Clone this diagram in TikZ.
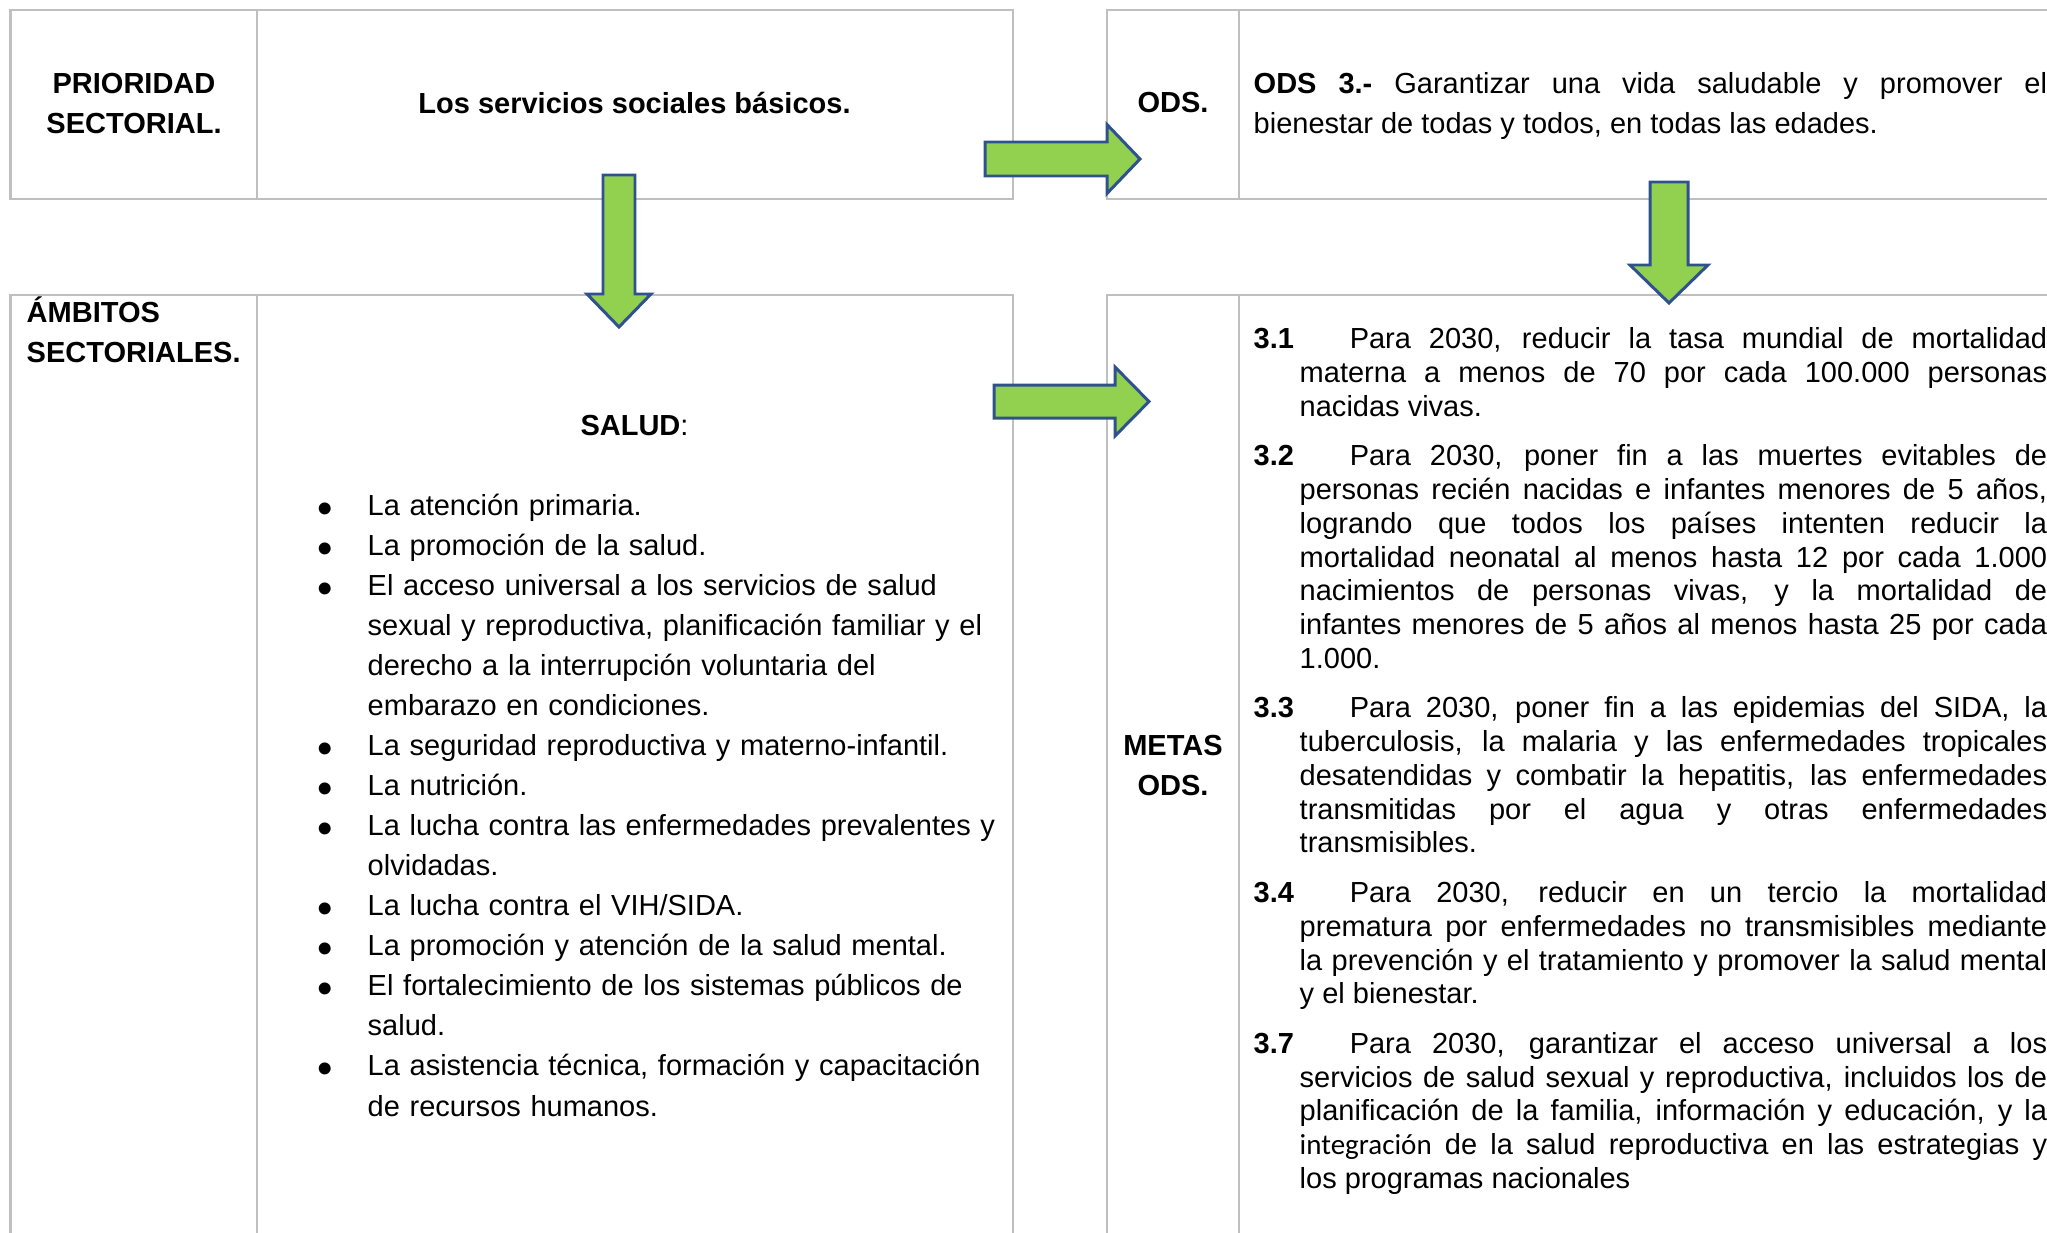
\documentclass[tikz,border=0pt]{standalone}
\usepackage{fontspec}
\setmainfont{Liberation Sans}
\newfontfamily\carlito{Carlito}
\usepackage{xcolor}
\usepackage{tikz}
\usetikzlibrary{positioning}
\definecolor{gridgray}{HTML}{BFBFBF}
\definecolor{arrowgreen}{HTML}{92D050}
\definecolor{arrowblue}{HTML}{2F528F}
\hbadness=10000
\newcommand{\bodyfont}{\fontsize{8.25pt}{11.38pt}\selectfont}
\newcommand{\metafont}{\fontsize{8.25pt}{9.59pt}\selectfont}
\newcommand{\saluditem}[1]{\noindent\hangindent=0.47cm\hangafter=1%
  \makebox[0.47cm][l]{\strut\hspace{-0.8pt}\raisebox{-2.2pt}{\fontsize{12.5pt}{12.5pt}\selectfont\textbullet}}#1\par}
\newcommand{\metaitem}[2]{\noindent\hangindent=0.46cm\hangafter=1%
  \makebox[0.96cm][l]{\strut\textbf{#1}}#2\par}
\tikzstyle{cell} = [rectangle, draw=gridgray, line width=0.6pt,
    inner sep=0pt, outer sep=0pt, anchor=north west]
\tikzstyle{headtext} = [inner sep=0pt, font=\bodyfont\bfseries]
\tikzstyle{celltext} = [inner sep=0pt, font=\bodyfont]
\tikzstyle{blockarrow} = [fill=arrowgreen, draw=arrowblue,
    line width=0.85pt, line join=miter]
\begin{document}
\begin{tikzpicture}[x=0.01cm, y=-0.01cm]
  \useasboundingbox (0,0) rectangle (2047,1233);

  % Place cells
  \node [cell, minimum width=2.465cm, minimum height=1.89cm] (prio) at (10.5,10) {};
  \node [cell, minimum width=7.55cm, minimum height=1.89cm, right=0pt of prio] (servicios) {};
  \node [cell, minimum width=2.465cm, minimum height=10cm] (ambitos) at (10.5,295) {};
  \node [cell, minimum width=7.55cm, minimum height=10cm, right=0pt of ambitos] (salud) {};
  \node [cell, minimum width=1.32cm, minimum height=1.89cm] (ods) at (1107,10) {};
  \node [cell, minimum width=9cm, minimum height=1.89cm, right=0pt of ods] (odscell) {};
  \node [cell, minimum width=1.32cm, minimum height=10cm] (metas) at (1107,295) {};
  \node [cell, minimum width=9cm, minimum height=10cm, right=0pt of metas] (metascell) {};

  % Place texts
  \node [headtext, text width=2.4cm, align=center, anchor=north] (priolabel) at (134,65)
    {\strut PRIORIDAD\\SECTORIAL.};
  \node [headtext, anchor=base] (servlabel) at (634.5,113) {Los servicios sociales básicos.};
  \node [headtext, anchor=base] (odslabel) at (1173,112) {ODS.};
  \node [celltext, text width=7.93cm, align=justify, anchor=north west] (odsgoal) at (1253,65)
    {\strut\textbf{ODS 3.-} Garantizar una vida saludable y promover el\linebreak
     bienestar de todas y todos, en todas las edades.};
  \node [headtext, text width=2.4cm, align=left, anchor=north west] (ambitoslabel) at (26,294)
    {\strut ÁMBITOS\\SECTORIALES.};
  \node [celltext, anchor=base] (saludtitle) at (634.5,435) {\textbf{SALUD}:};
  \node [celltext, text width=6.9cm, align=left, anchor=north west] (saludlist) at (320,487) {%
    \saluditem{La atención primaria.}
    \saluditem{La promoción de la salud.}
    \saluditem{El acceso universal a los servicios de salud\newline
      sexual y reproductiva, planificación familiar y el\newline
      derecho a la interrupción voluntaria del\newline
      embarazo en condiciones.}
    \saluditem{La seguridad reproductiva y materno-infantil.}
    \saluditem{La nutrición.}
    \saluditem{La lucha contra las enfermedades prevalentes y\newline
      olvidadas.}
    \saluditem{La lucha contra el VIH/SIDA.}
    \saluditem{La promoción y atención de la salud mental.}
    \saluditem{El fortalecimiento de los sistemas públicos de\newline
      salud.}
    \saluditem{La asistencia técnica, formación y capacitación\newline
      de recursos humanos.}};
  \node [headtext, text width=1.3cm, align=center, anchor=north] (metaslabel) at (1173,727)
    {\strut METAS\\ODS.};
  \node [celltext, font=\metafont, text width=7.93cm, align=justify, anchor=north west]
    (metaslist) at (1253,324.4) {\setlength{\parskip}{4.55pt}%
    \metaitem{3.1}{Para 2030, reducir la tasa mundial de mortalidad\linebreak
      materna a menos de 70 por cada 100.000 personas\linebreak
      nacidas vivas.}
    \metaitem{3.2}{Para 2030, poner fin a las muertes evitables de\linebreak
      personas recién nacidas e infantes menores de 5 años,\linebreak
      logrando que todos los países intenten reducir la\linebreak
      mortalidad neonatal al menos hasta 12 por cada 1.000\linebreak
      nacimientos de personas vivas, y la mortalidad de\linebreak
      infantes menores de 5 años al menos hasta 25 por cada\linebreak
      1.000.}
    \metaitem{3.3}{Para 2030, poner fin a las epidemias del SIDA, la\linebreak
      tuberculosis, la malaria y las enfermedades tropicales\linebreak
      desatendidas y combatir la hepatitis, las enfermedades\linebreak
      transmitidas por el agua y otras enfermedades\linebreak
      transmisibles.}
    \metaitem{3.4}{Para 2030, reducir en un tercio la mortalidad\linebreak
      prematura por enfermedades no transmisibles mediante\linebreak
      la prevención y el tratamiento y promover la salud mental\linebreak
      y el bienestar.}
    \metaitem{3.7}{Para 2030, garantizar el acceso universal a los\linebreak
      servicios de salud sexual y reproductiva, incluidos los de\linebreak
      planificación de la familia, información y educación, y la\linebreak
      {\carlito integración} de la salud reproductiva en las estrategias y\linebreak
      los programas nacionales}};

  % Draw arrows
  \draw [blockarrow] (985,142) -- (1107,142) -- (1107,124.5) -- (1140,159)
    -- (1107,193.5) -- (1107,176) -- (985,176) -- cycle;
  \draw [blockarrow] (994,385) -- (1115,385) -- (1115,367) -- (1149,401.5)
    -- (1115,436) -- (1115,418) -- (994,418) -- cycle;
  \draw [blockarrow] (603,175) -- (635,175) -- (635,294) -- (651,294)
    -- (619,327) -- (587,294) -- (603,294) -- cycle;
  \draw [blockarrow] (1650,182) -- (1688,182) -- (1688,265) -- (1708,265)
    -- (1669,303) -- (1630,265) -- (1650,265) -- cycle;
\end{tikzpicture}
\end{document}
